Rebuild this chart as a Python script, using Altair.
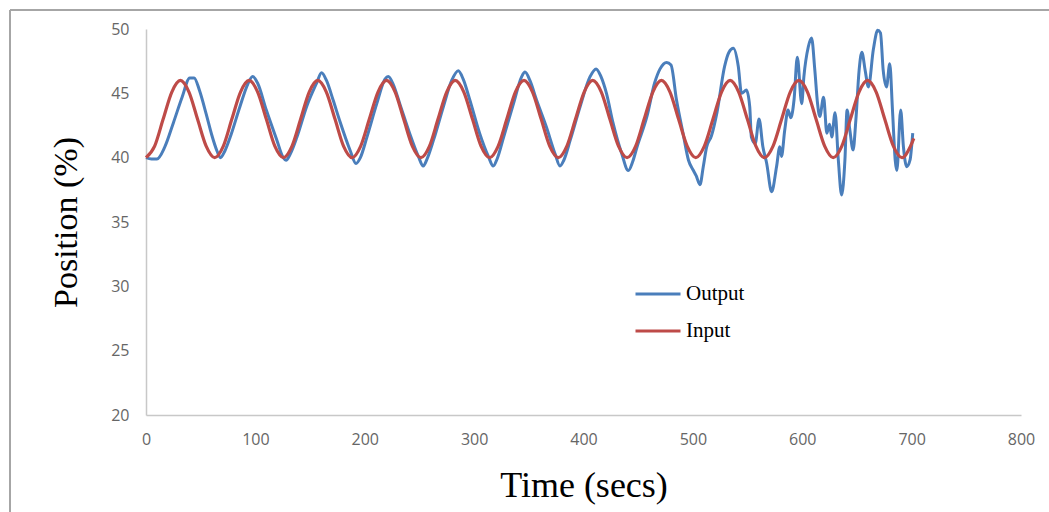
import altair as alt
import pandas as pd

# ---- data ----
OUTPUT_T = [0, 5, 10, 17, 25, 33, 40, 44, 49, 55, 60, 65, 68, 72, 77, 86, 93, 97.5, 102, 110,
            119.5, 125.5, 128, 132, 138, 147, 156, 160.5, 165, 171, 177, 186.5, 192, 196, 202,
            211, 218.5, 221.5, 226, 232, 241, 249, 253.5, 257, 263, 272, 279.5, 285.5, 290, 296,
            305, 313, 317.5, 321, 327, 336, 343.5, 346.5, 351, 357, 366, 374, 378.5, 382, 388,
            397, 406, 411.5, 416, 421, 427, 435, 441, 445, 449, 458, 465, 470, 476, 480, 485,
            491, 496, 500.5, 503, 506.5, 509.5, 512.5, 517, 522, 529, 533, 537, 541.5, 544.5,
            549, 552, 553.5, 557, 560.5, 564, 567.5, 572, 576.5, 579.5, 581, 584, 587, 589.5,
            592.5, 595.5, 599.5, 601.5, 605.5, 608.5, 611.5, 614, 616, 619.5, 622.5, 625, 627,
            630, 633, 636, 639, 641, 643.5, 646.5, 649, 652, 654.5, 657.5, 660.5, 665, 669,
            671.5, 674, 677, 680, 682.5, 685, 686.5, 690, 692.5, 695.5, 698.5, 701]
OUTPUT_V = [40.0, 39.9, 39.9, 40.8, 42.7, 44.7, 46.2, 46.2, 45.2, 43.4, 41.8, 40.5, 40.0, 40.5,
            41.6, 44.0, 45.7, 46.3, 45.8, 43.7, 41.4, 40.0, 39.8, 40.3, 41.6, 44.0, 45.8, 46.6,
            46.0, 44.5, 42.9, 40.6, 39.55, 40.0, 41.6, 44.2, 46.1, 46.3, 45.7, 44.2, 41.9, 40.1,
            39.35, 39.9, 41.4, 44.0, 46.0, 46.75, 46.1, 44.5, 41.9, 40.1, 39.35, 39.9, 41.6,
            44.2, 46.3, 46.65, 46.0, 44.5, 42.4, 40.3, 39.35, 39.8, 41.4, 44.0, 46.3, 46.9, 46.3,
            45.0, 42.7, 40.3, 39.0, 39.7, 40.85, 43.2, 45.8, 46.9, 47.4, 47.2, 44.5, 41.9, 39.8,
            39.0, 38.6, 37.9, 39.3, 40.8, 41.7, 43.5, 47.1, 48.2, 48.5, 47.1, 45.0, 45.25, 43.95,
            41.6, 41.1, 43.0, 40.85, 39.55, 37.35, 39.3, 40.85, 40.1, 42.15, 43.7, 43.1, 44.5,
            47.8, 44.2, 46.3, 48.6, 49.3, 46.8, 44.2, 43.2, 44.7, 41.9, 42.6, 41.6, 43.5, 39.8,
            37.1, 39.8, 43.7, 42.15, 40.6, 42.9, 46.8, 48.2, 46.8, 45.5, 48.4, 49.9, 49.7, 46.8,
            45.5, 47.3, 43.7, 39.8, 39.0, 43.7, 40.85, 39.3, 39.8, 41.9]

INPUT_T = [0, 7.9, 15.7, 23.6, 31.4, 39.3, 47.1, 55.0, 62.8, 70.7, 78.5, 86.4, 94.2, 102.1,
           110.0, 117.8, 125.7, 133.5, 141.4, 149.2, 157.1, 164.9, 172.8, 180.6, 188.5, 196.3,
           204.2, 212.1, 219.9, 227.8, 235.6, 243.5, 251.3, 259.2, 267.0, 274.9, 282.7, 290.6,
           298.5, 306.3, 314.2, 322.0, 329.9, 337.7, 345.6, 353.4, 361.3, 369.1, 377.0, 384.8,
           392.7, 400.6, 408.4, 416.3, 424.1, 432.0, 439.8, 447.7, 455.5, 463.4, 471.2, 479.1,
           486.9, 494.8, 502.7, 510.5, 518.4, 526.2, 534.1, 541.9, 549.8, 557.6, 565.5, 573.3,
           581.2, 589.0, 596.9, 604.8, 612.6, 620.5, 628.3, 636.2, 644.0, 651.9, 659.7, 667.6,
           675.4, 683.3, 691.2, 699.0, 702.0]
INPUT_V = [40.0, 40.9, 43.0, 45.1, 46.0, 45.1, 43.0, 40.9,
           40.0, 40.9, 43.0, 45.1, 46.0, 45.1, 43.0, 40.9,
           40.0, 40.9, 43.0, 45.1, 46.0, 45.1, 43.0, 40.9,
           40.0, 40.9, 43.0, 45.1, 46.0, 45.1, 43.0, 40.9,
           40.0, 40.9, 43.0, 45.1, 46.0, 45.1, 43.0, 40.9,
           40.0, 40.9, 43.0, 45.1, 46.0, 45.1, 43.0, 40.9,
           40.0, 40.9, 43.0, 45.1, 46.0, 45.1, 43.0, 40.9,
           40.0, 40.9, 43.0, 45.1, 46.0, 45.1, 43.0, 40.9,
           40.0, 40.9, 43.0, 45.1, 46.0, 45.1, 43.0, 40.9,
           40.0, 40.9, 43.0, 45.1, 46.0, 45.1, 43.0, 40.9,
           40.0, 40.9, 43.0, 45.1, 46.0, 45.1, 43.0, 40.9,
           40.0, 40.9, 41.5]

SERIES = ["Output", "Input"]
COLORS = ["#4A7EBB", "#BE4B48"]
X_TICKS = [0, 100, 200, 300, 400, 500, 600, 700, 800]
Y_TICKS = [20, 25, 30, 35, 40, 45, 50]

out_df = pd.DataFrame({"t": OUTPUT_T, "v": OUTPUT_V, "series": "Output"})
in_df = pd.DataFrame({"t": INPUT_T, "v": INPUT_V, "series": "Input"})

x_enc = alt.X("t:Q", scale=alt.Scale(domain=[0, 800], nice=False),
              axis=alt.Axis(values=X_TICKS, title="Time (secs)", titleFont="Liberation Serif",
                            titleFontSize=36, titleFontWeight="normal", titleColor="#000000",
                            titleX=437.5, titleY=70, titleBaseline="middle", titleAlign="center",
                            labelFont="Open Sans", labelFontSize=16, labelColor="#666666",
                            labelPadding=16, labelFlush=False, ticks=False,
                            domainColor="#c8c8c8", domainWidth=1.5, grid=False))
y_enc = alt.Y("v:Q", scale=alt.Scale(domain=[20, 50], nice=False),
              axis=alt.Axis(values=Y_TICKS, title="Position (%)", titleFont="Liberation Serif",
                            titleFontSize=34, titleFontWeight="normal", titleColor="#000000",
                            titleX=-80, titleY=193, titleAngle=270, titleBaseline="middle",
                            titleAlign="center", labelFont="Open Sans", labelFontSize=16,
                            labelColor="#666666", labelPadding=17, labelFlush=False,
                            ticks=False, domainColor="#c8c8c8", domainWidth=1.5, grid=False))
color_enc = alt.Color("series:N", scale=alt.Scale(domain=SERIES, range=COLORS),
                      legend=alt.Legend(title=None, orient="none", legendX=488, legendY=241,
                                        symbolType="stroke", symbolSize=2025,
                                        symbolStrokeWidth=3, labelFont="Liberation Serif",
                                        labelFontSize=21, labelColor="#000000",
                                        labelOffset=4, rowPadding=3, padding=0))

output_line = alt.Chart(out_df).mark_line(strokeWidth=3, interpolate="monotone").encode(
    x=x_enc, y=y_enc, color=color_enc)
input_line = alt.Chart(in_df).mark_line(strokeWidth=3.2, interpolate="monotone").encode(
    x=x_enc, y=y_enc, color=color_enc)

frame_df = pd.DataFrame({"k": [0]})
left_border = alt.Chart(frame_df).mark_rule(color="#a6a6a6", strokeWidth=2).encode(
    x=alt.value(-136), y=alt.value(-19), y2=alt.value(483))
top_border = alt.Chart(frame_df).mark_rule(color="#a6a6a6", strokeWidth=2).encode(
    x=alt.value(-136), x2=alt.value(903), y=alt.value(-19))

chart = alt.layer(output_line, input_line, left_border, top_border).properties(
    width=875, height=386,
    autosize=alt.AutoSizeParams(type="none"),
    padding={"left": 146, "top": 29, "right": 28, "bottom": 97},
    background="#ffffff",
).configure_view(stroke=None)

chart.save("out.html", embed_options={"renderer": "svg", "actions": False})
